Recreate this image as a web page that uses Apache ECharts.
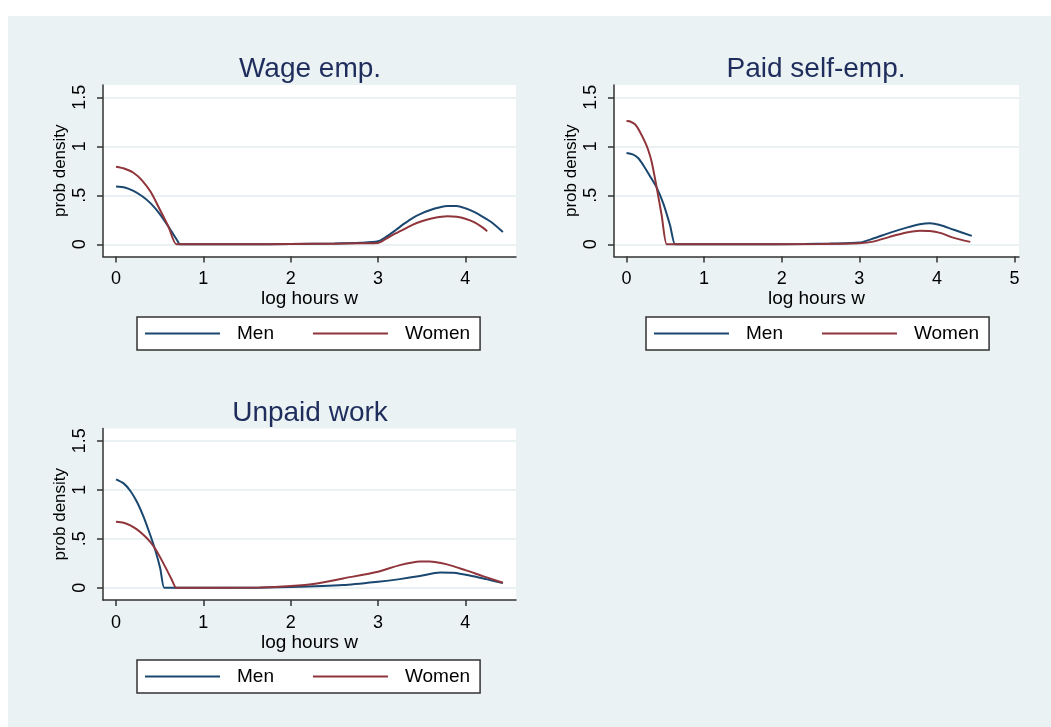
<!DOCTYPE html>
<html><head><meta charset="utf-8">
<script src="https://cdn.jsdelivr.net/npm/echarts@6/dist/echarts.min.js"></script>
<style>
html,body{margin:0;padding:0;background:#fff;}
#bg{position:absolute;left:8px;top:16px;width:1043px;height:711px;background:#eaf2f3;}
#chart{position:absolute;left:0;top:0;width:1051px;height:727px;}
</style></head>
<body><div id="bg"></div><div id="chart"></div>
<script>
// ---- Data ----
var panelTitles = ['Wage emp.', 'Paid self-emp.', 'Unpaid work'];
var seriesNames = ['Men', 'Women'];
var yTicks = [0, 0.5, 1, 1.5];
var xTicksA = [0, 1, 2, 3, 4];
var xTicksB = [0, 1, 2, 3, 4, 5];

// Wage emp.
var wageMenX = [0, 0.1, 0.2, 0.3, 0.4, 0.5, 0.6, 0.7, 0.73, 0.77, 1.5, 2.0, 2.5, 2.8, 3.0, 3.1, 3.2, 3.3, 3.4, 3.5, 3.6, 3.7, 3.8, 3.9, 4.0, 4.1, 4.2, 4.3, 4.43];
var wageMenY = [0.59, 0.58, 0.545, 0.49, 0.415, 0.31, 0.18, 0.04, 0, 0, 0, 0.003, 0.008, 0.015, 0.03, 0.08, 0.143, 0.21, 0.27, 0.315, 0.35, 0.375, 0.39, 0.39, 0.367, 0.33, 0.28, 0.225, 0.125];
var wageWomenX = [0, 0.1, 0.2, 0.3, 0.4, 0.5, 0.6, 0.69, 0.73, 1.5, 2.0, 2.5, 2.8, 3.0, 3.1, 3.2, 3.3, 3.4, 3.5, 3.6, 3.7, 3.8, 3.9, 4.0, 4.1, 4.2, 4.25];
var wageWomenY = [0.79, 0.77, 0.73, 0.65, 0.53, 0.357, 0.18, 0, 0, 0, 0.003, 0.006, 0.01, 0.013, 0.06, 0.11, 0.155, 0.2, 0.235, 0.26, 0.277, 0.285, 0.28, 0.26, 0.225, 0.17, 0.133];

// Paid self-emp.
var selfMenX = [0, 0.08, 0.15, 0.217, 0.303, 0.389, 0.475, 0.561, 0.625, 0.665, 1.5, 2.3, 2.62, 3.0, 3.18, 3.39, 3.61, 3.78, 3.91, 4.04, 4.21, 4.45];
var selfMenY = [0.93, 0.917, 0.88, 0.806, 0.694, 0.578, 0.415, 0.194, 0, 0, 0, 0.002, 0.007, 0.017, 0.058, 0.116, 0.17, 0.204, 0.214, 0.197, 0.15, 0.085];
var selfWomenX = [0, 0.04, 0.11, 0.174, 0.238, 0.281, 0.325, 0.389, 0.453, 0.518, 0.56, 1.5, 2.5, 3.0, 3.18, 3.39, 3.61, 3.78, 3.91, 4.04, 4.21, 4.43];
var selfWomenY = [1.258, 1.255, 1.224, 1.146, 1.044, 0.959, 0.84, 0.578, 0.296, 0, 0, 0, 0.003, 0.01, 0.027, 0.075, 0.12, 0.139, 0.136, 0.116, 0.068, 0.024];

// Unpaid work
var unpaidMenX = [0, 0.087, 0.163, 0.239, 0.316, 0.392, 0.449, 0.506, 0.552, 0.59, 1.5, 2.0, 2.6, 3.0, 3.25, 3.48, 3.71, 3.86, 4.05, 4.24, 4.43];
var unpaidMenY = [1.106, 1.065, 0.99, 0.877, 0.724, 0.538, 0.385, 0.198, 0, 0, 0, 0.007, 0.027, 0.061, 0.088, 0.119, 0.156, 0.153, 0.126, 0.088, 0.048];
var unpaidWomenX = [0, 0.087, 0.163, 0.239, 0.316, 0.392, 0.449, 0.506, 0.583, 0.64, 0.69, 0.73, 1.65, 2.0, 2.3, 2.6, 3.0, 3.25, 3.48, 3.59, 3.78, 4.0, 4.2, 4.43];
var unpaidWomenY = [0.673, 0.663, 0.636, 0.596, 0.538, 0.469, 0.398, 0.31, 0.18, 0.079, 0, 0, 0.003, 0.017, 0.044, 0.095, 0.163, 0.231, 0.269, 0.269, 0.241, 0.18, 0.119, 0.051];

// ---- Styling / layout ----
var FONT = '"Liberation Sans", Arial, sans-serif';
var MEN_COLOR = '#1a476f';
var WOMEN_COLOR = '#90353b';
var AXIS_COLOR = '#333333';

function pairs(xs, ys) { return xs.map(function (x, i) { return [x, ys[i]]; }); }

var panels = [
  { grid: { left: 103, top: 85, width: 413, height: 171.5 }, xmin: -0.149, xmax: 4.58, xt: xTicksA,
    men: pairs(wageMenX, wageMenY), women: pairs(wageWomenX, wageWomenY),
    titleX: 310, titleTop: 50, legendLeft: 137, legendTop: 317 },
  { grid: { left: 614, top: 85, width: 405, height: 171.5 }, xmin: -0.161, xmax: 5.058, xt: xTicksB,
    men: pairs(selfMenX, selfMenY), women: pairs(selfWomenX, selfWomenY),
    titleX: 816, titleTop: 50, legendLeft: 646, legendTop: 317 },
  { grid: { left: 103, top: 428.5, width: 413, height: 171.5 }, xmin: -0.149, xmax: 4.58, xt: xTicksA,
    men: pairs(unpaidMenX, unpaidMenY), women: pairs(unpaidWomenX, unpaidWomenY),
    titleX: 310, titleTop: 394, legendLeft: 137, legendTop: 660 }
];

var option = {
  backgroundColor: 'transparent',
  animation: false,
  textStyle: { fontFamily: FONT },
  title: [], grid: [], xAxis: [], yAxis: [], legend: [], series: []
};

panels.forEach(function (p, i) {
  option.title.push({
    text: panelTitles[i], left: p.titleX - 5, top: p.titleTop, textAlign: 'center',
    textStyle: { fontFamily: FONT, fontSize: 28, fontWeight: 'normal', color: '#1f2d5c' }
  });
  option.grid.push(Object.assign({ show: true, backgroundColor: '#ffffff', borderWidth: 0, containLabel: false }, p.grid));
  option.xAxis.push({
    type: 'value', gridIndex: i, min: p.xmin, max: p.xmax,
    name: 'log hours w', nameLocation: 'middle', nameGap: 30,
    nameTextStyle: { fontFamily: FONT, fontSize: 19, color: '#000' },
    axisLine: { show: true, onZero: false, lineStyle: { color: AXIS_COLOR, width: 1.5 } },
    axisTick: { show: true, length: 6, customValues: p.xt, lineStyle: { color: AXIS_COLOR, width: 1.5 } },
    axisLabel: { customValues: p.xt, fontFamily: FONT, fontSize: 18, color: '#000', margin: 14 },
    splitLine: { show: false }
  });
  option.yAxis.push({
    type: 'value', gridIndex: i, min: -0.125, max: 1.625,
    name: 'prob density', nameLocation: 'middle', nameGap: 34, nameRotate: 90,
    nameTextStyle: { fontFamily: FONT, fontSize: 17, color: '#000' },
    axisLine: { show: true, onZero: false, lineStyle: { color: AXIS_COLOR, width: 1.5 } },
    axisTick: { show: true, length: 6, customValues: yTicks, lineStyle: { color: AXIS_COLOR, width: 1.5 } },
    axisLabel: { customValues: yTicks, rotate: 90, fontFamily: FONT, fontSize: 18, color: '#000', margin: 14,
      formatter: function (v) { return v === 0 ? '0' : String(v).replace(/^0\./, '.'); } },
    splitLine: { show: true, lineStyle: { color: '#e3ecef', width: 1.5 } }
  });
  option.legend.push({
    data: seriesNames, left: p.legendLeft, top: p.legendTop, orient: 'horizontal',
    icon: 'rect', itemWidth: 75, itemHeight: 2, itemGap: 39,
    padding: [7, 10, 7, 8],
    backgroundColor: '#ffffff', borderColor: AXIS_COLOR, borderWidth: 1.5, borderRadius: 0,
    selectedMode: false,
    textStyle: { fontFamily: FONT, fontSize: 19, color: '#000', padding: [0, 0, 0, 12] }
  });
  option.series.push({
    name: seriesNames[0], type: 'line', xAxisIndex: i, yAxisIndex: i, data: p.men,
    symbol: 'none', smooth: 0.25, lineStyle: { color: MEN_COLOR, width: 2 }, itemStyle: { color: MEN_COLOR }
  });
  option.series.push({
    name: seriesNames[1], type: 'line', xAxisIndex: i, yAxisIndex: i, data: p.women,
    symbol: 'none', smooth: 0.25, lineStyle: { color: WOMEN_COLOR, width: 2 }, itemStyle: { color: WOMEN_COLOR }
  });
});

var chart = echarts.init(document.getElementById('chart'), null, { renderer: 'canvas' });
chart.setOption(option);
</script>
</body></html>
